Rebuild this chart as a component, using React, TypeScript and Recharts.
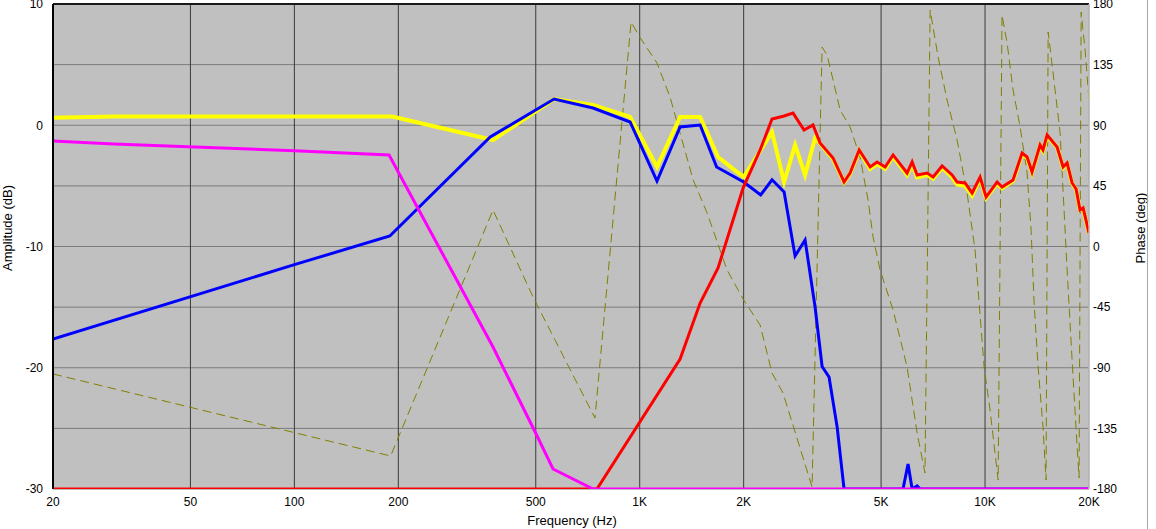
import React from 'react';
import { LineChart, Line, XAxis, YAxis, CartesianGrid, ReferenceLine } from 'recharts';

const freqTicks = [20, 50, 100, 200, 500, 1000, 2000, 5000, 10000, 20000];
const ampTicks = [-30, -25, -20, -15, -10, -5, 0, 5, 10];
const phaseTicks = [-180, -135, -90, -45, 0, 45, 90, 135, 180];

const yellowFreq = [20, 30, 192, 376, 565, 733, 938, 1122, 1309, 1496, 1686, 2000, 2416, 2619, 2818, 3012, 3220,
  3328, 3630, 3906, 4066, 4320, 4648, 4868, 5136, 5416, 5946, 6150, 6358, 6796, 7074, 7510, 8028, 8300, 8752, 9174,
  9676, 10070, 10838, 11200, 12052, 12800, 13236, 13680, 14430, 14720, 15128, 16166, 16828, 17284, 17868, 18352,
  18840, 19232, 20000];
const yellowDb = [0.62, 0.72, 0.72, -1.22, 2.16, 1.67, 0.68, -3.44, 0.68, 0.68, -2.62, -4.27, -0.56, -4.68, -1.63, -4.1, -1.05,
  -1.5, -2.8, -4.7, -4.0, -2.1, -3.6, -3.2, -3.6, -2.6, -4.1, -3.2, -4.3, -4.1, -4.4, -3.5, -4.3, -4.9, -5.0, -5.8,
  -4.4, -6.0, -4.8, -5.2, -4.6, -2.4, -2.7, -3.9, -1.7, -2.1, -0.9, -1.8, -3.5, -3.2, -4.8, -5.3,
  -7.0, -6.9, -8.9];

const blueFreq = [20, 100, 189, 369, 565, 733, 938, 1122, 1309, 1496, 1670, 2000, 2240, 2416, 2619, 2818, 3012, 3220,
  3374, 3534, 3730, 3906, 5788, 5985, 6150, 6358, 6486, 20000];
const blueDb = [-17.63, -11.5, -9.13, -0.97, 2.16, 1.42, 0.27, -4.6, -0.14, 0.02, -3.44, -4.68, -5.75, -4.5, -5.5, -10.78, -9.46, -14.99,
  -19.9, -20.76, -24.89, -30, -30, -27.94, -30, -29.75, -30, -30];

const redFreq = [20, 752, 1309, 1496, 1686, 1992, 2232, 2416, 2619, 2780, 2992, 3176, 3328, 3630, 3906, 4066, 4320, 4648,
  4868, 5136, 5416, 5946, 6150, 6358, 6796, 7074, 7510, 8028, 8300, 8752, 9174, 9676, 10070, 10838, 11200, 12052,
  12800, 13236, 13680, 14430, 14720, 15128, 16166, 16828, 17284, 17868, 18352, 18840, 19232, 20000];
const redDb = [-30, -30, -19.28, -14.66, -11.77, -5.18, -2.04, 0.52, 0.76, 1.0, -0.39, 0.02, -1.46, -2.7, -4.68, -3.94, -2.04, -3.44,
  -3.03, -3.44, -2.45, -3.94, -3.03, -4.1, -3.94, -4.27, -3.36, -4.1, -4.68, -4.76, -5.59, -4.27, -5.92, -4.68, -5.09, -4.52,
  -2.29, -2.62, -3.86, -1.63, -2.04, -0.8, -1.79, -3.44, -3.11, -4.76, -5.26, -6.99, -6.82, -8.89];

const magentaFreq = [20, 30, 100, 188, 376, 500, 561, 733, 20000];
const magentaDb = [-1.3, -1.55, -2.1, -2.45, -18.29, -25.4, -28.35, -30, -30];

const phaseFreq = [20, 190, 376, 491, 742, 944, 1000, 1122, 1224, 1428, 1567, 1790, 2000, 2232, 2416, 2600, 3156,
  3374, 3488, 3630, 3804, 4066, 4346, 4584, 4740, 4966, 5416, 5946, 6358, 6700, 6934, 7312, 7764, 8300, 8872,
  9356, 9938, 10340, 10912, 11200, 11586, 12052, 12638, 13236, 13596, 13870, 14244, 14720, 15020, 15230, 15742,
  16498, 17284, 17868, 18476, 18720, 18980, 19486, 20000];
const phaseDeg = [-94.6, -155.5, 27.1, -37.5, -127.3, 166.6, 155.5, 136.2, 111, 49.4, 24.9, -17.4, -39.7, -58.3, -93.9, -108.7, -178.5,
  148, 142.1, 123.6, 101.3, 88.7, 66.4, 34.5, 7, -17.4, -47.1, -89.4, -138.4, -168.1, 175.5, 140.7, 108.7, 79, 39.7,
  -2.6, -89.4, -121.4, -173.3, 171.8, 151, 116.2, 88.7, 54.6, 12.2, -42, -89.4, -134, -173.3, 159.2, 128.8,
  84.2, -17.4, -84.2, -148.8, -171.8, 174, 145.9, 108.7];

const zip = (fs: number[], vs: number[]) => fs.map((f, i) => ({ f, v: vs[i] }));

const yellowData = zip(yellowFreq, yellowDb);
const blueData = zip(blueFreq, blueDb);
const redData = zip(redFreq, redDb);
const magentaData = zip(magentaFreq, magentaDb);
const phaseData = zip(phaseFreq, phaseDeg);

const fmtFreq = (v: number) => (v >= 1000 ? `${v / 1000}K` : `${v}`);
const font = "'Liberation Sans', Arial, sans-serif";
const tickStyle = { fontSize: 12, fill: '#000', fontFamily: font };

export default function App() {
  return (
    <div style={{ position: 'fixed', left: 0, top: 0, width: 1156, height: 529, background: '#fff', overflow: 'hidden' }}>
      <LineChart width={1156} height={529} margin={{ top: 4, right: 0, bottom: 0, left: 0 }}>
        <CartesianGrid yAxisId="amp" xAxisId="f" vertical={false} stroke="#7c7c7c" fill="#C0C0C0" fillOpacity={1} />
        <CartesianGrid yAxisId="amp" xAxisId="f" horizontal={false} stroke="#3a3a3a" />
        <XAxis
          xAxisId="f"
          dataKey="f"
          type="number"
          scale="log"
          domain={[20, 20000]}
          ticks={freqTicks}
          tickFormatter={fmtFreq}
          allowDataOverflow
          height={40}
          axisLine={false}
          tickLine={false}
          tickSize={0}
          tickMargin={8}
          tick={tickStyle}
          interval={0}
        />
        <YAxis
          yAxisId="amp"
          orientation="left"
          domain={[-30, 10]}
          ticks={ampTicks}
          tickFormatter={(v: number) => (v % 10 === 0 ? `${v}` : '')}
          allowDataOverflow
          width={53}
          axisLine={{ stroke: '#000', strokeWidth: 2 }}
          tickLine={false}
          tickSize={0}
          tickMargin={10}
          tick={tickStyle}
          interval={0}
        />
        <YAxis
          yAxisId="phase"
          orientation="right"
          domain={[-180, 180]}
          ticks={phaseTicks}
          allowDataOverflow
          width={67}
          axisLine={{ stroke: '#ececec', strokeWidth: 1 }}
          tickLine={false}
          tickSize={0}
          tickMargin={4}
          tick={tickStyle}
          interval={0}
        />
        <ReferenceLine yAxisId="amp" xAxisId="f" y={10} stroke="#1a1a1a" strokeWidth={2} />
        <Line xAxisId="f" yAxisId="phase" data={phaseData} dataKey="v" type="linear" stroke="#808000" strokeWidth={1}
          strokeDasharray="9 5" dot={false} activeDot={false} isAnimationActive={false} />
        <Line xAxisId="f" yAxisId="amp" data={yellowData} dataKey="v" type="linear" stroke="#FFFF00" strokeWidth={4}
          dot={false} activeDot={false} isAnimationActive={false} />
        <Line xAxisId="f" yAxisId="amp" data={blueData} dataKey="v" type="linear" stroke="#0000FF" strokeWidth={3}
          dot={false} activeDot={false} isAnimationActive={false} />
        <Line xAxisId="f" yAxisId="amp" data={redData} dataKey="v" type="linear" stroke="#FF0000" strokeWidth={3}
          dot={false} activeDot={false} isAnimationActive={false} />
        <Line xAxisId="f" yAxisId="amp" data={magentaData} dataKey="v" type="linear" stroke="#FF00FF" strokeWidth={3}
          dot={false} activeDot={false} isAnimationActive={false} />
      </LineChart>
      <div style={{ position: 'absolute', left: 7, top: 228, transform: 'translate(-50%, -50%) rotate(-90deg)',
        whiteSpace: 'nowrap', fontFamily: font, fontSize: 13, color: '#000' }}>Amplitude (dB)</div>
      <div style={{ position: 'absolute', left: 1140, top: 228, transform: 'translate(-50%, -50%) rotate(-90deg)',
        whiteSpace: 'nowrap', fontFamily: font, fontSize: 13, color: '#000' }}>Phase (deg)</div>
      <div style={{ position: 'absolute', left: 572, top: 520, transform: 'translate(-50%, -50%)',
        whiteSpace: 'nowrap', fontFamily: font, fontSize: 13, color: '#000' }}>Frequency (Hz)</div>
      <div style={{ position: 'absolute', left: 1147, top: 0, width: 1, height: 529, background: '#a8a8a8' }} />
    </div>
  );
}
